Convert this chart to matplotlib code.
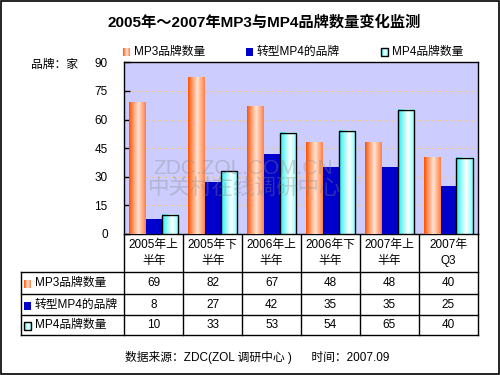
import numpy as np
import matplotlib.pyplot as plt
from matplotlib.patches import Rectangle
from matplotlib.colors import LinearSegmentedColormap

plt.rcParams['font.family'] = ['Liberation Sans', 'Noto Sans CJK SC', 'DejaVu Sans']

# data
periods = ['2005年上\n半年', '2005年下\n半年', '2006年上\n半年',
           '2006年下\n半年', '2007年上\n半年', '2007年\nQ3']
series_names = ['MP3品牌数量', '转型MP4的品牌', 'MP4品牌数量']
mp3_brands = [69, 82, 67, 48, 48, 40]
transformed_mp4 = [8, 27, 42, 35, 35, 25]
mp4_brands = [10, 33, 53, 54, 65, 40]
yticks = [0, 15, 30, 45, 60, 75, 90]

W, H = 500, 375
FS = 8.5

mp3_cmap = LinearSegmentedColormap.from_list(
    'mp3', [(0, '#FF5000'), (0.2, '#FF8C55'), (0.55, '#FFE4D2'), (1, '#FF8048')])
mp4_cmap = LinearSegmentedColormap.from_list(
    'mp4', [(0, '#28F0F0'), (0.6, '#FFFFFF'), (1, '#78FFFF')])
blue = '#0000CC'
grad = np.linspace(0, 1, 64).reshape(1, -1)


def px_box(x0, y0, x1, y1):
    return [x0 / W, 1 - y1 / H, (x1 - x0) / W, (y1 - y0) / H]


fig = plt.figure(figsize=(5, 3.75), dpi=100)

# pixel canvas for the surrounding text, legend and table
canvas = fig.add_axes([0, 0, 1, 1], zorder=0)
canvas.axis('off')

ax = fig.add_axes(px_box(124.3, 62.3, 477.7, 234), zorder=1)
ax.set_facecolor('#CCCCFF')

x = np.arange(len(periods))
bw = 0.277
mp3_bars = ax.bar(x - bw, mp3_brands, bw, color='none', lw=0, zorder=3)
blue_bars = ax.bar(x, transformed_mp4, bw, color=blue, lw=0, zorder=3)
mp4_bars = ax.bar(x + bw, mp4_brands, bw, facecolor='none',
                  edgecolor='black', lw=1, zorder=4)
for bars, cmap in ((mp3_bars, mp3_cmap), (mp4_bars, mp4_cmap)):
    for b in bars:
        ax.imshow(grad, cmap=cmap, aspect='auto', interpolation='bilinear',
                  extent=(b.get_x(), b.get_x() + b.get_width(), 0, b.get_height()),
                  zorder=3)

ax.set_xlim(-0.5, len(periods) - 0.5)
ax.set_ylim(0, 90)
ax.set_yticks(yticks)
ax.yaxis.grid(True, color='#F2C88C', ls=(0, (3, 3)), lw=0.8)
ax.set_axisbelow(True)
ax.tick_params(axis='y', direction='in', length=4, pad=12, labelsize=FS, width=1)
ax.tick_params(axis='x', length=0, labelbottom=False)
for s in ax.spines.values():
    s.set_color('black')
    s.set_linewidth(1)

# watermark
ax.text(243, 168, 'ZDC.ZOL.COM.CN', transform=canvas.transData, ha='center',
        va='center', fontsize=15, color='#888888', alpha=0.35, zorder=6)
ax.text(245, 188, '中关村在线调研中心', transform=canvas.transData, ha='center',
        va='center', fontsize=15.5, color='#888888', alpha=0.35, zorder=6)

# title, axis label, source
canvas.text(264, 22, '2005年～2007年MP3与MP4品牌数量变化监测', ha='center',
            va='center', fontsize=11, fontweight='bold')
canvas.text(55, 65, '品牌：家', ha='center', va='center', fontsize=FS)
canvas.text(257, 358, '数据来源：ZDC(ZOL 调研中心 )      时间：2007.09',
            ha='center', va='center', fontsize=FS)


def swatch(x0, yc, kind, w=7, h=8):
    y0, y1 = yc - h / 2, yc + h / 2
    if kind == 0:
        canvas.imshow(grad, cmap=mp3_cmap, aspect='auto', extent=(x0, x0 + w, y1, y0))
    elif kind == 1:
        canvas.add_patch(Rectangle((x0, y0), w, h, facecolor=blue, lw=0))
    else:
        canvas.imshow(grad, cmap=mp4_cmap, aspect='auto', extent=(x0, x0 + w, y1, y0))
        canvas.add_patch(Rectangle((x0, y0), w, h, facecolor='none',
                                   edgecolor='black', lw=1))


# legend
for kind, (sx, name) in enumerate(zip([123, 246, 381], series_names)):
    swatch(sx, 52, kind)
    canvas.text(sx + 11, 52, name, ha='left', va='center', fontsize=FS)

# data table
col_x = [ax.transData.transform((i - 0.5, 0))[0] for i in range(len(periods) + 1)]
t_left, t_top, t_head = 20.7, 234, 272.3
row_y = [272.3, 294.3, 315.3, 335.3]
lk = dict(color='black', lw=1)
for cx in col_x:
    canvas.plot([cx, cx], [t_top, row_y[-1]], **lk)
canvas.plot([t_left, t_left], [t_head, row_y[-1]], **lk)
for ry in row_y:
    canvas.plot([t_left, col_x[-1]], [ry, ry], **lk)

for i, label in enumerate(periods):
    cx = (col_x[i] + col_x[i + 1]) / 2
    canvas.text(cx, 253, label, ha='center', va='center', fontsize=FS,
                linespacing=1.4)

for r, (name, vals) in enumerate(zip(series_names,
                                     [mp3_brands, transformed_mp4, mp4_brands])):
    yc = (row_y[r] + row_y[r + 1]) / 2
    swatch(24.3, yc + 1, r)
    canvas.text(35, yc, name, ha='left', va='center', fontsize=FS)
    for i, v in enumerate(vals):
        cx = (col_x[i] + col_x[i + 1]) / 2
        canvas.text(cx, yc, str(v), ha='center', va='center', fontsize=FS)

# outer frame
canvas.add_patch(Rectangle((0.7, 0.7), W - 1.4, H - 1.4, facecolor='none',
                           edgecolor='black', lw=1.2))

canvas.set_xlim(0, W)
canvas.set_ylim(H, 0)

fig.savefig('out.png', dpi=100)
